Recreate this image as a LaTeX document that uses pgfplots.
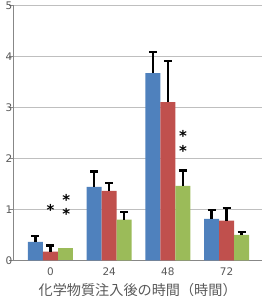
\documentclass[border=0pt]{standalone}
\usepackage{pgfplots}
\usepackage{pgfplotstable}
\pgfplotsset{compat=1.18}
\usepackage{fontspec}
\setmainfont{DejaVu Sans}
\newfontfamily\jp{Noto Sans CJK JP}
\definecolor{cblue}{HTML}{4F81BD}
\definecolor{cred}{HTML}{C0504D}
\definecolor{cgreen}{HTML}{9BBB59}
\definecolor{tick}{HTML}{595959}
\pgfplotstableread{
x y e
0 0.36 0.11
1 1.44 0.30
2 3.67 0.41
3 0.81 0.18
}\bluetab
\pgfplotstableread{
x y e
0 0.17 0.12
1 1.36 0.16
2 3.10 0.81
3 0.78 0.25
}\redtab
\pgfplotstableread{
x y e
1 0.80 0.14
2 1.46 0.30
3 0.50 0.06
}\greentab
\pgfplotstableread{
x y
0 0.25
}\greenzero
\begin{document}
\begin{tikzpicture}
\useasboundingbox (-13.3bp,-35.7bp) rectangle (248.7bp,260.3bp);
\begin{axis}[
  at={(0,0)}, anchor=south west,
  scale only axis, width=248.7bp, height=255bp,
  ybar, bar width=15bp,
  xmin=-0.634, xmax=3.605, ymin=0, ymax=5,
  xtick={0,1,2,3}, xticklabels={0,24,48,72},
  ytick={0,1,2,3,4,5},
  axis x line*=bottom, axis y line*=left,
  axis line style={draw=black!47, line width=0.8bp},
  x axis line style={-}, y axis line style={-},
  ymajorgrids, grid style={draw=black!25, line width=0.8bp},
  xtick style={draw=none},
  ytick style={draw=black!47, line width=0.8bp},
  tick align=outside, major tick length=4bp,
  tick label style={font=\fontsize{10.5}{12}\selectfont, text=tick},
  yticklabel style={xshift=3.8bp, inner sep=0.5bp},
  /pgf/number format/assume math mode=true,
  xlabel={\jp 化学物質注入後の時間（時間）},
  xlabel style={at={(rel axis cs:0.5,0)}, anchor=center, yshift=-29.4bp,
    font=\fontsize{14.2}{16}\selectfont, text=tick},
  error bars/y dir=plus, error bars/y explicit,
  error bars/error bar style={black, line width=2.2bp},
  error bars/error mark options={black, line width=2.2bp, mark size=4bp, rotate=90},
]
\addplot[fill=cblue, draw=none, bar shift=-15bp] table[x=x, y=y, y error=e] {\bluetab};
\addplot[fill=cred, draw=none, bar shift=0bp] table[x=x, y=y, y error=e] {\redtab};
\addplot[fill=cgreen, draw=none, bar shift=15bp] table[x=x, y=y, y error=e] {\greentab};
\addplot[fill=cgreen, draw=none, bar shift=15bp, error bars/y dir=none] table[x=x, y=y] {\greenzero};
\node[font=\bfseries\fontsize{15}{15}\selectfont] at (axis cs:0,0.98) {*};
\node[font=\bfseries\fontsize{15}{15}\selectfont] at (axis cs:0.27,1.19) {*};
\node[font=\bfseries\fontsize{15}{15}\selectfont] at (axis cs:0.27,0.90) {*};
\node[font=\bfseries\fontsize{15}{15}\selectfont] at (axis cs:2.26,2.43) {*};
\node[font=\bfseries\fontsize{15}{15}\selectfont] at (axis cs:2.26,2.15) {*};
\end{axis}
\end{tikzpicture}
\end{document}
